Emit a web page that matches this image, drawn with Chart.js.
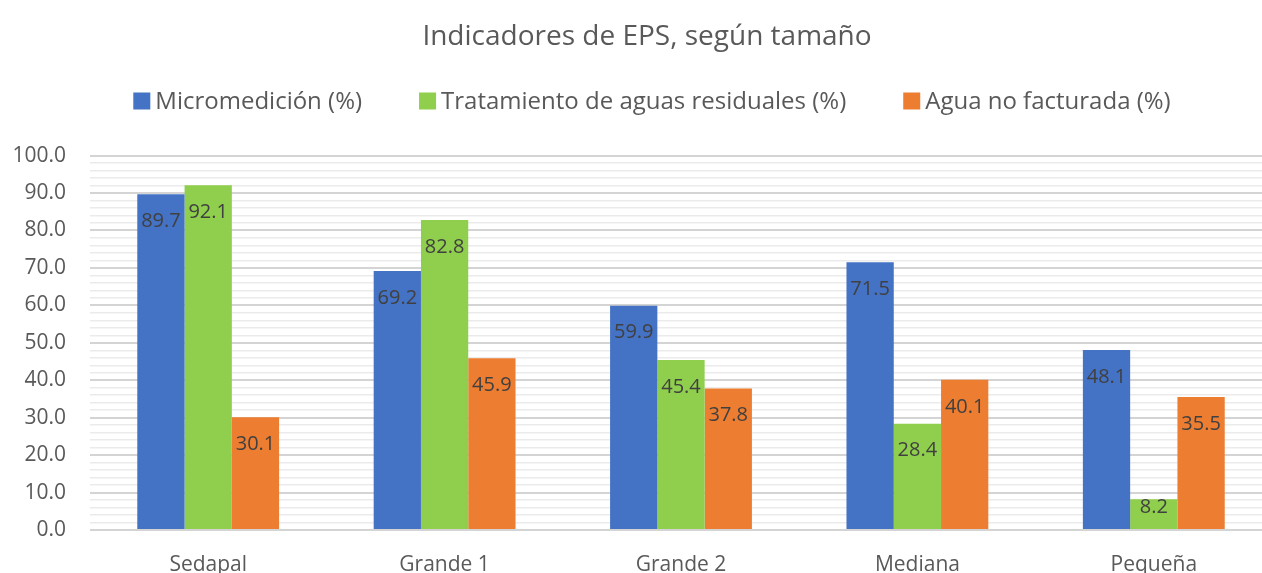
<!DOCTYPE html>
<html>
<head>
<meta charset="utf-8">
<script src="https://cdn.jsdelivr.net/npm/chart.js@4"></script>
<style>
  html, body { margin: 0; padding: 0; background: #fff; overflow: hidden; }
  #wrap { width: 1296px; height: 590px; }
</style>
</head>
<body>
<div id="wrap"><canvas id="chart" width="1296" height="590"></canvas></div>
<script>
const categories = ['Sedapal', 'Grande 1', 'Grande 2', 'Mediana', 'Pequeña'];
const micromedicion = [89.7, 69.2, 59.9, 71.5, 48.1];
const tratamiento = [92.1, 82.8, 45.4, 28.4, 8.2];
const aguaNoFacturada = [30.1, 45.9, 37.8, 40.1, 35.5];
const seriesLabels = ['Micromedición (%)', 'Tratamiento de aguas residuales (%)', 'Agua no facturada (%)'];
const seriesColors = ['#4472C4', '#8FCF4D', '#ED7D31'];

const FONT = '"Open Sans", "Noto Sans", sans-serif';

// labels inside the top of each bar, like excel "inside end"
const barLabels = {
  id: 'barLabels',
  afterDatasetsDraw(chart) {
    const ctx = chart.ctx;
    ctx.save();
    ctx.font = '20px ' + FONT;
    ctx.fillStyle = '#404040';
    ctx.textAlign = 'center';
    ctx.textBaseline = 'middle';
    chart.data.datasets.forEach((ds, i) => {
      chart.getDatasetMeta(i).data.forEach((bar, j) => {
        const h = bar.base - bar.y;
        const off = h > 100 ? 27 : h * 0.27;
        ctx.fillText(ds.data[j].toFixed(1), bar.x, bar.y + off);
      });
    });
    ctx.restore();
  }
};

// legend drawn by hand: the built-in one ties item spacing to vertical padding
const excelLegend = {
  id: 'excelLegend',
  afterLayout(chart) {
    // original chart was a bit wider on the right, so its title sits right of our center
    chart.titleBlock.left += 22;
  },
  afterDraw(chart) {
    const ctx = chart.ctx;
    const box = 17, gap = 5, spacing = 57, y = 101;
    ctx.save();
    ctx.font = '24px ' + FONT;
    ctx.textBaseline = 'middle';
    const items = chart.data.datasets.map(ds => ({
      text: ds.label, color: ds.backgroundColor, w: ctx.measureText(ds.label).width
    }));
    const total = items.reduce((s, it) => s + box + gap + it.w, 0) + spacing * (items.length - 1);
    let x = chart.width / 2 + 4 - total / 2;
    items.forEach(it => {
      ctx.fillStyle = it.color;
      ctx.fillRect(x, y - box / 2, box, box);
      ctx.fillStyle = '#595959';
      ctx.fillText(it.text, x + box + gap, y + 1);
      x += box + gap + it.w + spacing;
    });
    ctx.restore();
  }
};

const datasets = [micromedicion, tratamiento, aguaNoFacturada].map((d, i) => ({
  label: seriesLabels[i],
  data: d,
  backgroundColor: seriesColors[i],
  borderWidth: 0,
  categoryPercentage: 0.6,
  barPercentage: 1.0
}));

new Chart(document.getElementById('chart').getContext('2d'), {
  type: 'bar',
  data: { labels: categories, datasets: datasets },
  options: {
    responsive: false,
    animation: false,
    layout: { padding: { top: 0, right: 24, bottom: 10, left: 0 } },
    plugins: {
      title: {
        display: true,
        text: 'Indicadores de EPS, según tamaño',
        color: '#595959',
        font: { family: FONT, size: 28, weight: 'normal', lineHeight: 1.2 },
        padding: { top: 20, bottom: 102 }
      },
      legend: { display: false },
      tooltip: { enabled: false }
    },
    scales: {
      x: {
        grid: { display: false },
        border: { display: false },
        ticks: { color: '#595959', font: { family: FONT, size: 21 }, padding: 14 },
        afterFit(scale) { scale.height = 50; }
      },
      y: {
        min: 0,
        max: 100,
        border: { display: false },
        grid: {
          drawTicks: false,
          color: c => (c.tick && c.tick.value % 10 === 0) ? '#d4d4d4' : '#ebebeb',
          lineWidth: c => (c.tick && c.tick.value % 10 === 0) ? 2 : 1.5
        },
        ticks: {
          stepSize: 2,
          autoSkip: false,
          padding: 24,
          color: '#595959',
          font: { family: FONT, size: 21 },
          callback: v => v % 10 === 0 ? v.toFixed(1) : ''
        },
        afterFit(scale) { scale.width = 90; }
      }
    }
  },
  plugins: [barLabels, excelLegend]
});
</script>
</body>
</html>
